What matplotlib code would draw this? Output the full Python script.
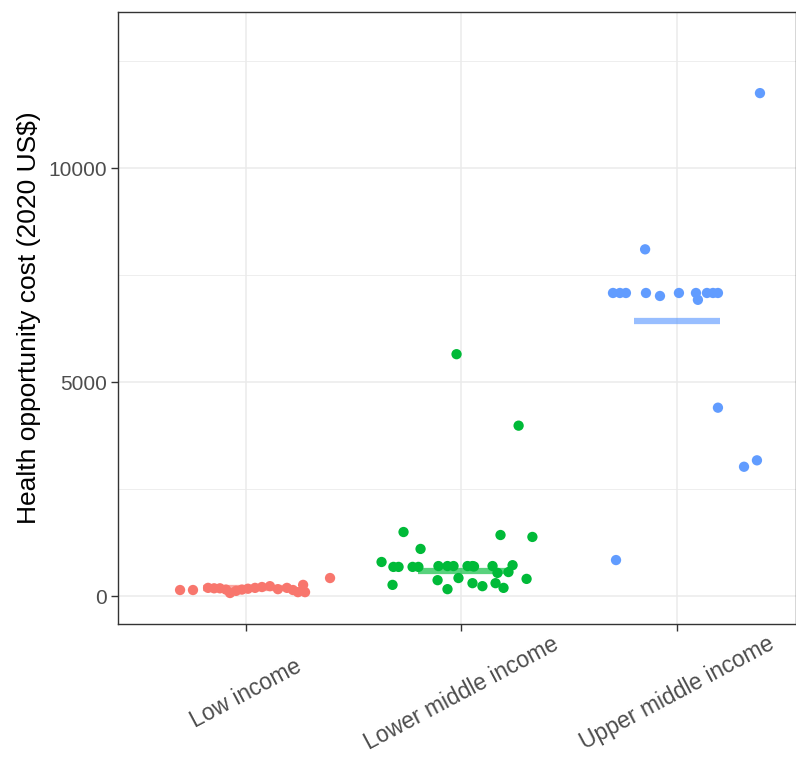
import matplotlib
matplotlib.use("Agg")
import matplotlib.pyplot as plt
import numpy as np

categories = ["Low income", "Lower middle income", "Upper middle income"]
colors = ["#F8766D", "#00BA38", "#619CFF"]

# jitter offsets (category units) and values (2020 US$)
low_x = [-0.306, -0.246, -0.176, -0.148, -0.121, -0.093, -0.074, -0.046, -0.019, 0.009,
         0.042, 0.074, 0.111, 0.148, 0.190, 0.218, 0.241, 0.265, 0.274, 0.390]
low_y = [140, 140, 190, 180, 180, 150, 70, 120, 150, 170,
         190, 210, 230, 160, 190, 140, 90, 260, 90, 420]

lmid_x = [-0.371, -0.320, -0.316, -0.292, -0.269, -0.227, -0.200, -0.190, -0.111, -0.107,
          -0.065, -0.065, -0.037, -0.023, -0.014, 0.028, 0.051, 0.058, 0.051, 0.097,
          0.144, 0.158, 0.167, 0.181, 0.195, 0.218, 0.237, 0.265, 0.302, 0.329]
lmid_y = [795, 260, 680, 680, 1495, 680, 680, 1100, 370, 700,
          700, 160, 700, 5650, 420, 700, 700, 690, 300, 230,
          700, 300, 540, 1425, 190, 560, 720, 3980, 400, 1380]

umid_x = [-0.297, -0.265, -0.237, -0.283, -0.148, -0.144, -0.079, 0.009, 0.088, 0.097,
          0.139, 0.167, 0.190, 0.190, 0.311, 0.371, 0.385]
umid_y = [7080, 7080, 7080, 840, 8100, 7080, 7010, 7080, 7080, 6920,
          7080, 7080, 7080, 4400, 3020, 3170, 11750]

# summary bar level per group
summary = [180, 585, 6425]

xs = [low_x, lmid_x, umid_x]
ys = [low_y, lmid_y, umid_y]

FAM = ["Liberation Sans", "DejaVu Sans"]

fig = plt.figure(figsize=(7.96, 7.63), dpi=100)
ax = fig.add_axes([118/796, 1 - 624/763, (795.5 - 118)/796, (624 - 12)/763])

ax.set_xlim(1 - 128/215.5, 3 + (795.5 - 677)/215.5)
ax.set_ylim(-654, 13645)

ax.set_yticks([0, 5000, 10000])
ax.set_yticks([2500, 7500, 12500], minor=True)
ax.set_xticks([1, 2, 3])
ax.set_xticklabels(categories)

ax.grid(True, which="major", color="#EBEBEB", linewidth=1.1, zorder=0)
ax.grid(True, which="minor", axis="y", color="#EBEBEB", linewidth=0.6, zorder=0)
ax.set_axisbelow(True)

for i in range(3):
    cx = i + 1
    ax.plot([cx - 0.2, cx + 0.2], [summary[i], summary[i]], color=colors[i],
            alpha=0.65, linewidth=4.5, solid_capstyle="butt", zorder=2)
    ax.scatter(np.array(xs[i]) + cx, ys[i], s=55, color=colors[i], edgecolors="none", zorder=3)

for sp in ax.spines.values():
    sp.set_color("#333333")
    sp.set_linewidth(1.0)

ax.tick_params(axis="both", which="major", length=5, width=1, color="#333333", labelcolor="#4D4D4D")
ax.tick_params(axis="y", which="minor", length=0)
ax.tick_params(axis="y", labelsize=15, pad=3)
ax.tick_params(axis="x", labelsize=16.5, pad=45)
for lab in ax.get_xticklabels():
    lab.set_rotation(28)
    lab.set_rotation_mode("anchor")
    lab.set_ha("center")
    lab.set_va("center")
for lab in ax.get_yticklabels() + ax.get_xticklabels():
    lab.set_family(FAM)

ax.set_ylabel("Health opportunity cost (2020 US$)", fontsize=19, color="black",
              family=FAM, labelpad=5)

fig.savefig("out.png", dpi=100)
